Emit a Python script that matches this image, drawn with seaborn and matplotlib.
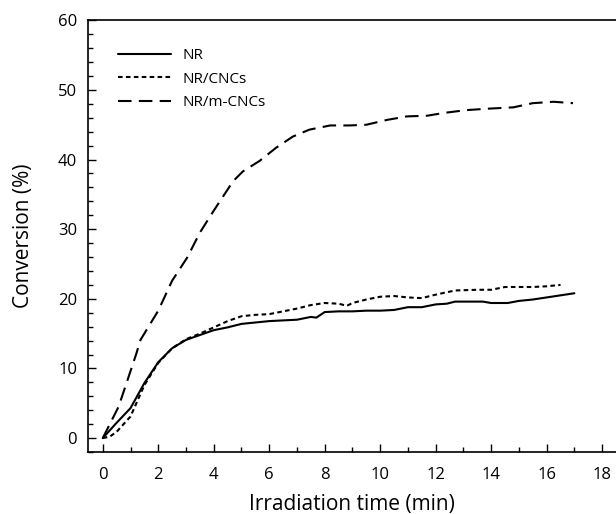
import matplotlib
matplotlib.use("Agg")
import matplotlib.pyplot as plt
import seaborn as sns
import pandas as pd
from matplotlib.ticker import MultipleLocator

sns.set_theme(style="ticks")
plt.rcParams['font.family'] = ['Open Sans', 'DejaVu Sans']
plt.rcParams['text.color'] = 'black'
plt.rcParams['axes.labelcolor'] = 'black'

# NR (solid)
nr_x = [0, 0.5, 1.0, 1.5, 2.0, 2.5, 3.0, 3.5, 4.0, 4.5, 5.0, 5.5, 6.0, 6.5, 7.0, 7.5, 7.7,
        8.0, 8.5, 9.0, 9.5, 10.0, 10.5, 11.0, 11.5, 12.0, 12.4, 12.7, 13.0, 13.3, 13.7,
        14.0, 14.3, 14.6, 15.0, 15.5, 16.0, 16.5, 17.0]
nr_y = [0, 2.2, 4.3, 7.9, 10.9, 12.9, 14.1, 14.8, 15.5, 15.9, 16.4, 16.6, 16.8, 16.9, 17.0, 17.4, 17.3,
        18.1, 18.2, 18.2, 18.3, 18.3, 18.4, 18.8, 18.8, 19.2, 19.3, 19.6, 19.6, 19.6, 19.6,
        19.4, 19.4, 19.4, 19.7, 19.9, 20.2, 20.5, 20.8]

# NR/CNCs (dotted)
cnc_x = [0, 0.25, 0.5, 1.0, 1.5, 2.0, 2.5, 3.0, 3.5, 4.0, 4.5, 5.0, 5.5, 6.0, 6.5, 7.0, 7.5,
         8.0, 8.5, 8.8, 9.0, 9.5, 10.0, 10.5, 11.0, 11.5, 12.0, 12.7, 13.5, 14.0, 14.5,
         15.0, 15.5, 16.0, 16.5]
cnc_y = [0, 0.2, 0.9, 3.1, 7.6, 10.8, 12.9, 14.2, 15.0, 15.9, 16.8, 17.5, 17.7, 17.8, 18.2, 18.6, 19.1,
         19.4, 19.3, 19.0, 19.4, 19.9, 20.3, 20.4, 20.2, 20.1, 20.6, 21.2, 21.3, 21.3, 21.7,
         21.7, 21.7, 21.8, 22.0]

# NR/m-CNCs (dashed)
mcnc_x = [0, 0.57, 1.2, 1.36, 2.0, 2.5, 3.04, 3.5, 3.99, 4.7, 5.05, 5.65, 6.25, 6.85, 7.45,
          8.2, 8.9, 9.5, 10.25, 10.97, 11.7, 12.3, 13.1, 13.85, 14.8, 15.5, 16.25, 16.95]
mcnc_y = [0, 4.5, 12.0, 14.1, 18.3, 22.6, 25.9, 29.5, 32.6, 36.9, 38.3, 39.8, 41.7, 43.3, 44.3,
          44.9, 44.9, 45.0, 45.7, 46.2, 46.3, 46.7, 47.1, 47.3, 47.5, 48.1, 48.3, 48.1]

labels = ["NR", "NR/CNCs", "NR/m-CNCs"]

fig = plt.figure(figsize=(6.16, 5.14), dpi=100)
ax = fig.add_axes([0.1434, 0.1206, 0.8566, 0.8399])

series = [(nr_x, nr_y, None, "-"),
          (cnc_x, cnc_y, (2.2, 1.6), "--"),
          (mcnc_x, mcnc_y, (6.5, 3.5), "--")]
for (xs, ys, dash, ls), lab in zip(series, labels):
    df = pd.DataFrame({"x": xs, "y": ys})
    sns.lineplot(data=df, x="x", y="y", ax=ax, color="black", lw=1.5, label=lab,
                 linestyle=ls)
    if dash is not None:
        ax.lines[-1].set_dashes(dash)

ax.set_xlim(-0.52, 18.5)
ax.set_ylim(-2, 60)
ax.xaxis.set_major_locator(MultipleLocator(2))
ax.xaxis.set_minor_locator(MultipleLocator(1))
ax.yaxis.set_major_locator(MultipleLocator(10))
ax.yaxis.set_minor_locator(MultipleLocator(2))
ax.tick_params(which="both", direction="in", top=False, right=False, colors="black",
               labelsize=12)
ax.tick_params(which="major", length=6, width=1)
ax.tick_params(which="minor", length=3.5, width=1)
ax.tick_params(axis="x", pad=11)
ax.tick_params(axis="y", pad=8)
ax.spines["right"].set_visible(False)
for s in ["left", "bottom", "top"]:
    ax.spines[s].set_linewidth(1.2)
    ax.spines[s].set_color("black")

ax.set_xlabel("Irradiation time (min)", fontsize=15, labelpad=8)
ax.set_ylabel("Conversion (%)", fontsize=15, labelpad=17)

leg = ax.legend(loc="upper left", bbox_to_anchor=(0.03, 0.967), frameon=False, fontsize=11,
                handlelength=3.5, labelspacing=0.55, handletextpad=0.7)

fig.savefig("out.png", dpi=100)
